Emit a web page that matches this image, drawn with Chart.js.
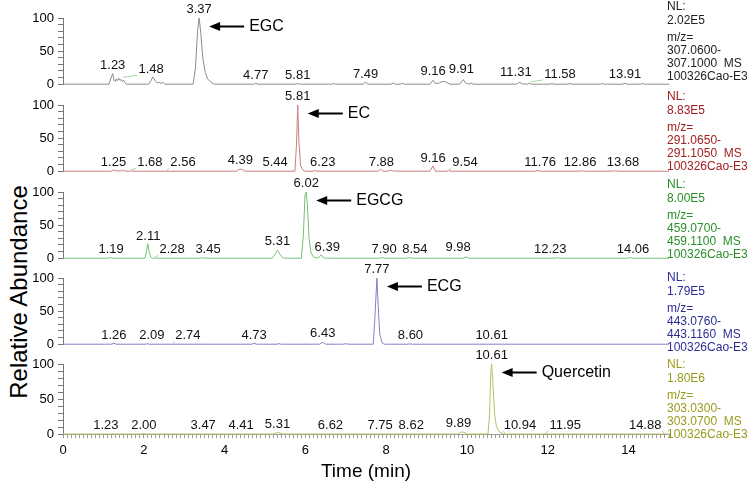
<!DOCTYPE html>
<html><head><meta charset="utf-8">
<script src="https://cdn.jsdelivr.net/npm/chart.js@4.4.1/dist/chart.umd.min.js"></script>
<style>
html,body{margin:0;padding:0;background:#fff;}
#wrap{position:relative;width:753px;height:490px;overflow:hidden;background:#fff;}
#wrap canvas{position:absolute;left:0;}
#ylab{position:absolute;left:19px;top:292px;transform:translate(-50%,-50%) rotate(-90deg);white-space:nowrap;font:24px "Liberation Sans",Arial,sans-serif;color:#000;}
</style></head><body>
<div id="wrap"><div id="ylab">Relative Abundance</div></div>
<script>
// ---------- DATA ----------
// Panel 1: EGC, m/z 307.0600-307.1000
const p1Time  = [0,1.14,1.18,1.23,1.26,1.29,1.32,1.35,1.38,1.41,1.44,1.47,1.50,1.53,1.57,2.12,2.18,2.23,2.28,2.33,2.38,2.42,2.47,2.52,3.22,3.28,3.33,3.37,3.41,3.46,3.52,3.58,3.66,3.75,4.72,4.77,4.82,5.76,5.81,5.86,6.65,6.70,6.75,7.43,7.49,7.55,8.12,8.17,8.22,8.35,8.40,8.45,9.08,9.16,9.22,9.32,9.38,9.45,9.52,9.58,9.82,9.88,9.91,9.96,10.05,10.10,10.15,11.22,11.28,11.31,11.36,11.50,11.55,11.60,12.05,12.10,12.15,12.50,12.55,12.60,13.30,13.35,13.40,13.85,13.91,13.97,14.30,14.35,14.40,15];
const p1Abund = [0,0,8,16,6,4,8,5,9,6,7,4,6,3,0,0,6,11,5,2,3,1,3,0,0,25,80,100,78,40,18,8,3,0,0,1.5,0,0,1,0,0,1,0,0,3,0,0,2,0,0,1.5,0,0,6,1,2,4,4,2,0,0,5,7,2,0,2,0,0,2,3,0.5,0,1.5,0,0,1,0,0,1,0,0,1,0,0,1.5,0,0,1,0,0];
const p1PeakRT    = [1.23,1.48,3.37,4.77,5.81,7.49,9.16,9.91,11.31,11.58,13.91];
const p1PeakLevel = [16,9,100,0,0,2,7,9,5,2,2];
const p1PeakShift = [0,0.70,0,0,0,0,0,-0.05,-0.1,0.72,0];

// Panel 2: EC, m/z 291.0650-291.1050
const p2Time  = [0,1.20,1.25,1.30,1.45,1.50,1.55,1.65,1.68,1.72,4.30,4.35,4.39,4.44,4.50,5.74,5.78,5.81,5.84,5.88,5.95,6.00,6.20,6.23,6.27,7.80,7.86,7.92,8.05,8.10,8.15,8.30,9.08,9.16,9.22,9.50,9.54,9.60,11.70,11.76,11.80,12.80,12.86,12.90,13.60,13.68,13.75,15];
const p2Abund = [0,0,2,0.5,0.5,1.5,0,0,1,0,0,2.5,3,2.5,0,0,40,100,45,8,1,0,0,1.5,0,0,3,0,0,2,0.5,0,0,8,0,0,1,0,0,1,0,0,0.8,0,0,0.8,0,0];
const p2PeakRT    = [1.25,1.68,2.56,4.39,5.44,5.81,6.23,7.88,9.16,9.54,11.76,12.86,13.68];
const p2PeakLevel = [0,0,0,3,0,100,1,0,6,0,0,0,0];
const p2PeakShift = [0,0.47,0.41,0,-0.19,0,0.2,0,0,0.41,0.05,-0.06,0.18];

// Panel 3: EGCG, m/z 459.0700-459.1100
const p3Time  = [0,1.15,1.19,1.23,2.03,2.07,2.10,2.13,2.17,2.21,2.25,2.28,2.32,3.40,3.45,3.50,5.18,5.24,5.31,5.37,5.43,5.48,5.90,5.95,5.99,6.02,6.05,6.09,6.14,6.20,6.28,6.33,6.39,6.44,6.50,7.85,7.90,7.95,8.50,8.54,8.60,9.90,9.98,10.05,12.20,12.23,12.27,14.00,14.06,14.10,15];
const p3Abund = [0,0,1,0,0,12,22,10,2,0,0,1,0,0,0.8,0,0,5,12,6,1,0,0,35,95,100,80,30,8,2,0,1,5,1,0,0,1,0,0,1,0,0,2,0,0,1,0,0,0.8,0,0];
const p3PeakRT    = [1.19,2.11,2.28,3.45,5.31,6.02,6.39,7.90,8.54,9.98,12.23,14.06];
const p3PeakLevel = [0,20,0,0,12,100,4,0,0,3,1,0];
const p3PeakShift = [0,0,0.42,0.14,0,0,0.15,0.05,0.17,-0.2,-0.17,0.05];

// Panel 4: ECG, m/z 443.0760-443.1160
const p4Time  = [0,1.20,1.26,1.31,2.05,2.09,2.13,4.68,4.73,4.79,5.30,5.35,5.40,6.35,6.43,6.50,6.95,7.00,7.05,7.68,7.72,7.77,7.80,7.84,7.90,7.95,8.55,8.60,8.65,15];
const p4Abund = [0,0,1.5,0,0,0.8,0,0,1.5,0,0,0.8,0,0,3,0,0,0.8,0,0,40,100,60,15,2,0,0,0.5,0,0];
const p4PeakRT    = [1.26,2.09,2.74,4.73,6.43,7.77,8.60,10.61];
const p4PeakLevel = [0,0,0,0,3,100,0,0];
const p4PeakShift = [0,0.11,0.35,0,0,0,0,0];

// Panel 5: Quercetin, m/z 303.0300-303.0700
const p5Time  = [0,1.20,1.23,1.27,1.96,2.00,2.04,5.20,5.26,5.31,5.37,5.43,9.78,9.83,9.89,9.95,10.00,10.52,10.56,10.59,10.61,10.64,10.68,10.73,10.80,10.90,11.90,11.95,12.00,15];
const p5Abund = [0,0,0.5,0,0,0.8,0,0,1.5,2,1.5,0,0,2,3,2,0,0,30,90,100,75,30,10,3,0,0,0.5,0,0];
const p5PeakRT    = [1.23,2.00,3.47,4.41,5.31,6.62,7.75,8.62,9.89,10.61,10.94,11.95,14.88];
const p5PeakLevel = [0,0,0,0,2,0,0,0,3,100,0,0,0];
const p5PeakShift = [-0.17,0,0,0,0,0,0.1,0,-0.1,0,0.37,0.48,-0.47];

const compoundNames = ['EGC','EC','EGCG','ECG','Quercetin'];
const compoundRT    = [3.37,5.81,6.02,7.77,10.61];
const nlValues      = ['2.02E5','8.83E5','8.00E5','1.79E5','1.80E6'];
const mzLow         = ['307.0600','291.0650','459.0700','443.0760','303.0300'];
const mzHigh        = ['307.1000','291.1050','459.1100','443.1160','303.0700'];
const rawFile       = '100326Cao-E3';
const xTickLabels   = [0,2,4,6,8,10,12,14];
const yTickLabels   = [0,50,100];

// ---------- STYLE / LAYOUT ----------
const FONT = '"Liberation Sans", Arial, Helvetica, sans-serif';
const traceColors = ['#8c8c8c','#cc7c7c','#74c074','#8282c8','#bcbc66'];
const textColors  = ['#222222','#a32020','#2a8f2a','#2c2c94','#9a9a1c'];
const areaTop = [18,105,192,278,364];
const infoDy  = [-11,-8,-7,0,1];
const PAD_TOP = 22, AREA_H = 70;

const panels = [
  {t:p1Time,v:p1Abund,rt:p1PeakRT,lv:p1PeakLevel,sh:p1PeakShift},
  {t:p2Time,v:p2Abund,rt:p2PeakRT,lv:p2PeakLevel,sh:p2PeakShift},
  {t:p3Time,v:p3Abund,rt:p3PeakRT,lv:p3PeakLevel,sh:p3PeakShift},
  {t:p4Time,v:p4Abund,rt:p4PeakRT,lv:p4PeakLevel,sh:p4PeakShift},
  {t:p5Time,v:p5Abund,rt:p5PeakRT,lv:p5PeakLevel,sh:p5PeakShift}
];

function annotPlugin(i){
  const P = panels[i];
  return {id:'annot'+i, afterDraw(chart){
    const ctx = chart.ctx, xs = chart.scales.x, ys = chart.scales.y;
    ctx.save();
    // peak retention-time labels
    ctx.font = '13px ' + FONT;
    ctx.textAlign = 'center'; ctx.textBaseline = 'alphabetic';
    P.rt.forEach((rt,k)=>{
      const sh = P.sh[k];
      const xp = xs.getPixelForValue(rt + sh);
      const yp = ys.getPixelForValue(P.lv[k]) - 5;
      if (Math.abs(sh) >= 0.35){
        const w = ctx.measureText(rt.toFixed(2)).width;
        ctx.strokeStyle = '#a6d8a6'; ctx.lineWidth = 1;
        ctx.beginPath();
        ctx.moveTo(xs.getPixelForValue(rt), ys.getPixelForValue(P.lv[k]) - 1);
        ctx.lineTo(sh > 0 ? xp - w/2 - 1 : xp + w/2 + 1, yp + 2);
        ctx.stroke();
      }
      ctx.fillStyle = '#111';
      ctx.fillText(rt.toFixed(2), xp, yp);
    });
    // compound arrow + name
    const tipX = xs.getPixelForValue(compoundRT[i]) + 10;
    const ay = Math.round(ys.getPixelForValue(88)) + 0.5;
    ctx.strokeStyle = '#000'; ctx.fillStyle = '#000'; ctx.lineWidth = 2;
    ctx.beginPath(); ctx.moveTo(tipX + 8, ay); ctx.lineTo(tipX + 35, ay); ctx.stroke();
    ctx.beginPath(); ctx.moveTo(tipX, ay); ctx.lineTo(tipX + 11, ay - 4.5); ctx.lineTo(tipX + 11, ay + 4.5); ctx.closePath(); ctx.fill();
    ctx.font = '16px ' + FONT; ctx.textAlign = 'left'; ctx.textBaseline = 'middle';
    ctx.fillText(compoundNames[i], tipX + 40, ay);
    // right-side scan info
    const lines = ['NL:', nlValues[i], 'm/z=', mzLow[i] + '-', mzHigh[i] + '  MS', rawFile];
    const offs = [0,14,31,44,57,70];
    ctx.font = '12px ' + FONT; ctx.fillStyle = textColors[i];
    const y0 = ys.getPixelForValue(100) + infoDy[i];
    lines.forEach((s,k)=> ctx.fillText(s, 667, y0 + offs[k]));
    ctx.restore();
  }};
}

const wrap = document.getElementById('wrap');
panels.forEach((P,i)=>{
  const last = i === 4;
  const top = areaTop[i] - PAD_TOP;
  const h = last ? 490 - top : PAD_TOP + AREA_H + 8;
  const cv = document.createElement('canvas');
  cv.width = 753; cv.height = h;
  cv.style.width = '753px'; cv.style.height = h + 'px'; cv.style.top = top + 'px';
  wrap.appendChild(cv);
  new Chart(cv, {
    type: 'line',
    data: { datasets: [{
      data: P.t.map((t,k)=>({x:t, y:P.v[k]})),
      borderColor: traceColors[i], borderWidth: 1, pointRadius: 0, tension: 0, fill: false, clip: false
    }]},
    options: {
      responsive: false, animation: false, events: [],
      layout: { padding: { left: 0, right: 84, top: PAD_TOP, bottom: last ? 0 : 8 } },
      plugins: { legend: {display:false}, tooltip: {enabled:false} },
      scales: {
        x: {
          type: 'linear', min: 0, max: 15, display: last,
          afterFit: s => { s.height = last ? 56 : 0; },
          ticks: { stepSize: 0.1, autoSkip: false, maxRotation: 0, padding: 5,
                   color: '#000', font: {family: FONT, size: 13},
                   callback: v => { const r = Math.round(v); return (Math.abs(v - r) < 1e-6 && xTickLabels.includes(r)) ? String(r) : ''; } },
          grid: { drawOnChartArea: false, drawTicks: true, tickLength: 4, color: '#9a9a9a' },
          border: { display: true, color: '#9a9a9a' },
          title: { display: true, text: 'Time (min)', color: '#000', font: {family: FONT, size: 19}, padding: {top: 0, bottom: 7} }
        },
        y: {
          min: 0, max: 100,
          afterFit: s => { s.width = 63; },
          ticks: { stepSize: 10, autoSkip: false, padding: 4, color: '#000', font: {family: FONT, size: 13},
                   callback: v => yTickLabels.includes(v) ? String(v) : '' },
          grid: { drawOnChartArea: false, drawTicks: true, tickLength: 5, color: '#777' },
          border: { display: true, color: '#777' }
        }
      }
    },
    plugins: [annotPlugin(i)]
  });
});
</script>
</body></html>
